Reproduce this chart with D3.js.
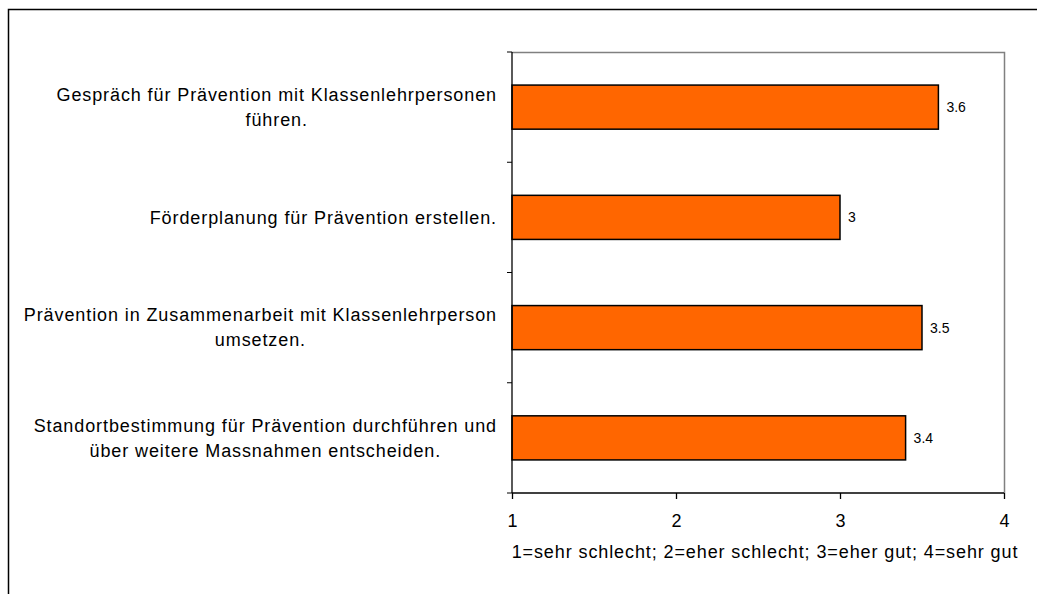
<!DOCTYPE html>
<html>
<head>
<meta charset="utf-8">
<script src="https://cdn.jsdelivr.net/npm/d3@7"></script>
<style>
  body { margin: 0; background: #fff; }
  svg { display: block; font-family: "Liberation Sans", Arial, sans-serif; }
</style>
</head>
<body>
<div id="chart"></div>
<script>
'use strict'
/* Daten */
var kategorien = [
  ['Gespräch für Prävention mit Klassenlehrpersonen', 'führen.'],
  ['Förderplanung für Prävention erstellen.'],
  ['Prävention in Zusammenarbeit mit Klassenlehrperson', 'umsetzen.'],
  ['Standortbestimmung für Prävention durchführen und', 'über weitere Massnahmen entscheiden.']
];
var werte = [3.6, 3, 3.5, 3.4];
var xTicks = [1, 2, 3, 4];
var achsenTitel = '1=sehr schlecht; 2=eher schlecht; 3=eher gut; 4=sehr gut';

var w = 1037, h = 594;
var plot = { left: 512, right: 1004, top: 52, bottom: 493 };

var svg = d3.select('#chart').append('svg')
  .attr('width', w).attr('height', h);

// Rahmen aussen
svg.append('path')
  .attr('d', 'M8.5,' + h + 'V9.5H' + w)
  .attr('fill', 'none').attr('stroke', '#000').attr('stroke-width', 1.5);

var xScale = d3.scaleLinear().domain([1, 4]).range([plot.left, plot.right]);
var yScale = d3.scaleBand()
  .domain(d3.range(kategorien.length))
  .range([plot.top, plot.bottom])
  .paddingInner(0.6).paddingOuter(0.3);

// Plotrahmen (grau oben und rechts)
svg.append('path')
  .attr('d', 'M' + plot.left + ',' + (plot.top + 0.5) + 'H' + (plot.right + 0.5) + 'V' + plot.bottom)
  .attr('fill', 'none').attr('stroke', '#808080').attr('stroke-width', 1.5);

// Balken
svg.selectAll('rect.bar')
  .data(werte)
  .enter()
  .append('rect')
  .attr('class', 'bar')
  .attr('x', xScale(1))
  .attr('y', (d, i) => yScale(i))
  .attr('width', (d) => xScale(d) - xScale(1))
  .attr('height', yScale.bandwidth())
  .attr('fill', '#ff6600')
  .attr('stroke', '#000')
  .attr('stroke-width', 1.5);

// Werte
svg.selectAll('text.wert')
  .data(werte)
  .enter()
  .append('text')
  .attr('class', 'wert')
  .attr('x', (d) => xScale(d) + 8)
  .attr('y', (d, i) => yScale(i) + yScale.bandwidth() / 2)
  .attr('dy', '0.35em')
  .attr('font-size', 14)
  .text((d) => d);

// x-Achse
var xAxis = d3.axisBottom(xScale).tickValues(xTicks).tickSize(6).tickPadding(15).tickFormat(d3.format('d'));
var gx = svg.append('g')
  .attr('transform', 'translate(0,' + plot.bottom + ')')
  .call(xAxis);
gx.selectAll('text').attr('font-size', 18).attr('fill', '#000').attr('font-family', null);
gx.selectAll('line, path').attr('stroke', '#000').attr('stroke-width', 1.3);
gx.select('.domain').attr('d', 'M' + plot.left + ',0H' + plot.right);

// y-Achse (Trennstriche zwischen Kategorien)
var yTickPos = d3.range(kategorien.length + 1).map((i) => plot.top + i * yScale.step());
var gy = svg.append('g');
gy.append('line')
  .attr('x1', plot.left).attr('x2', plot.left)
  .attr('y1', plot.top).attr('y2', plot.bottom)
  .attr('stroke', '#000').attr('stroke-width', 1.3);
gy.selectAll('line.tick')
  .data(yTickPos)
  .enter()
  .append('line')
  .attr('class', 'tick')
  .attr('x1', plot.left - 5).attr('x2', plot.left)
  .attr('y1', (d) => d).attr('y2', (d) => d)
  .attr('stroke', '#000').attr('stroke-width', 1);

// Kategorienbeschriftung
var labelRight = 497, lineH = 25;
kategorien.forEach((lines, i) => {
  var g = svg.append('g');
  var cy = yScale(i) + yScale.bandwidth() / 2;
  var texts = lines.map((t, j) => g.append('text')
    .attr('font-size', 18)
    .attr('letter-spacing', 0.9)
    .attr('y', cy + (j - (lines.length - 1) / 2) * lineH)
    .attr('dy', '0.35em')
    .text(t));
  var maxW = d3.max(texts, (t) => t.node().getComputedTextLength());
  var center = labelRight - maxW / 2;
  texts.forEach((t) => t.attr('x', center).attr('text-anchor', 'middle'));
});

// Achsentitel
svg.append('text')
  .attr('x', 765)
  .attr('y', 558)
  .attr('text-anchor', 'middle')
  .attr('font-size', 18)
  .attr('letter-spacing', 0.9)
  .text(achsenTitel);
</script>
</body>
</html>
